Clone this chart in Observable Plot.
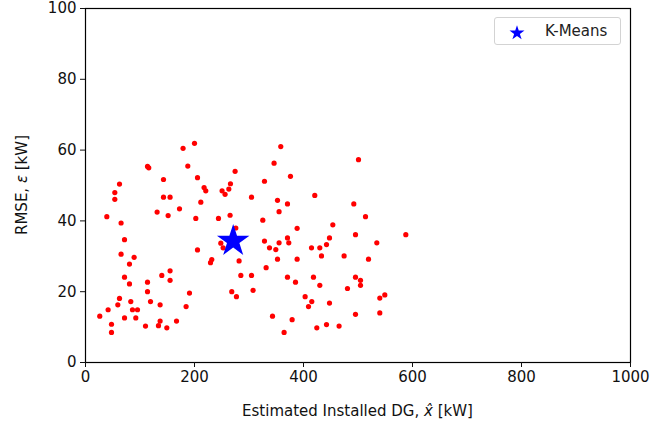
<!DOCTYPE html>
<html>
<head>
<meta charset="utf-8">
<script src="https://cdn.jsdelivr.net/npm/d3@7"></script>
<script src="https://cdn.jsdelivr.net/npm/@observablehq/plot@0.6"></script>
<style>
  html, body { margin: 0; padding: 0; background: #fff; }
  #wrap { position: relative; width: 665px; height: 428px; font-family: "DejaVu Sans", sans-serif; }
  #legend { position: absolute; left: 494px; top: 17px; width: 127px; height: 28px;
    border: 1px solid #d3d3d3; border-radius: 3px; background: rgba(255,255,255,0.8);
    box-sizing: border-box; }
  #legend svg { position: absolute; left: 0; top: 0; }
  #legend span { position: absolute; left: 50px; top: 4px; font-size: 15px; color: #222; }
</style>
</head>
<body>
<div id="wrap"></div>
<script>
// Estimated installed DG (kW) and RMSE (kW) for each sample
const dgX = [200, 179, 113.8, 116.1, 187.7, 274.5, 62.4, 143.1, 205.5, 266, 53.8, 217.6, 220.7, 250.6, 256.1, 263, 53.8, 143.1, 155.2, 211.6, 172.5, 131.4, 151.6, 265.3, 39.1, 202.4, 244, 65.3, 71.6, 205.5,
  248.3, 252.5, 65.3, 89.2, 80.7, 231.7, 229.4, 281.8, 71.6, 140, 155.2, 80.7, 155.2, 113.8, 285, 113.8, 190.8, 268.4, 277, 62.4, 83.1, 59.3, 119.3, 136.9, 41.5, 86.2, 95.4, 184.6, 26.2, 71.6, 92.3, 136.9, 133.9, 167, 47.7, 110.1, 149.2, 47.7,
  358.3, 500.9, 346, 376.1, 328.4, 304.6, 420.7, 352.3, 370.6, 492.3, 355.2, 325.3, 513.8, 388.3, 453.8, 495.4, 587.7, 447.7, 328.4, 370.6, 373, 355.2, 442.2, 534.5, 337.6, 349.2, 414.7, 429.9,
  352.3, 388.3, 433, 474.5, 519.3, 331.4, 304.6, 370.6, 418.3, 495.4, 504.6, 504.6, 385.3, 429.9, 307.5, 480.7, 403, 415.2, 409.2, 447.7, 540, 549.2, 495.4, 540, 343.1, 379.1, 424.4, 442.2, 465.3, 364.4, 275.8];
const rmseY = [61.9, 60.5, 55.4, 55.0, 55.5, 54.0, 50.4, 51.7, 52.2, 50.5, 48.0, 49.4, 48.5, 48.5, 47.5, 49.0, 46.1, 46.7, 46.7, 45.3, 43.4, 42.5, 41.5, 41.6, 41.2, 40.7, 40.7, 39.4, 34.7, 31.8,
  33.7, 32.4, 30.6, 29.7, 27.8, 29.1, 28.2, 28.7, 24.1, 24.6, 25.9, 22.2, 23.2, 22.7, 24.6, 20.0, 19.6, 20.0, 18.6, 18.1, 17.2, 16.3, 17.2, 16.3, 14.9, 14.9, 14.9, 15.8, 13.1, 12.6, 12.6, 11.7, 10.4, 11.7, 10.8, 10.3, 9.8, 8.5,
  61.0, 57.3, 56.3, 52.6, 51.2, 46.7, 47.2, 45.8, 44.8, 44.8, 42.6, 40.2, 41.2, 37.9, 38.9, 36.1, 36.1, 35.2, 34.3, 35.2, 33.8, 33.8, 33.3, 33.8, 32.4, 31.9, 32.4, 32.4,
  29.2, 29.2, 30.1, 30.1, 29.2, 26.8, 24.6, 24.1, 24.1, 24.1, 23.2, 21.8, 22.7, 21.8, 20.4, 20.9, 18.6, 17.2, 15.8, 16.8, 18.2, 19.1, 13.6, 14.0, 13.1, 12.1, 9.8, 10.7, 10.3, 8.5, 38.0];
// K-Means centroid
const kmX = [271];
const kmY = [34.3];
const kmLabel = ["K-Means"];
const xTicks = [0, 200, 400, 600, 800, 1000];
const yTicks = [0, 20, 40, 60, 80, 100];

const points = dgX.map((x, i) => ({x, y: rmseY[i]}));
const centroid = kmX.map((x, i) => ({x, y: kmY[i], name: kmLabel[i]}));

const W = 665, H = 428;
const chart = Plot.plot({
  width: W, height: H,
  marginLeft: 85, marginRight: 35, marginTop: 8, marginBottom: 66,
  style: {fontFamily: "DejaVu Sans", fontSize: "15px", color: "#111", background: "#fff"},
  x: {domain: [0, 1000], ticks: xTicks, label: null},
  y: {domain: [0, 100], ticks: yTicks, label: null},
  marks: [
    Plot.frame({stroke: "#000", strokeWidth: 1.2}),
    Plot.axisX({ticks: xTicks, tickFormat: d3.format("d"), tickSize: 5, tickPadding: 4, label: null, fontSize: 15}),
    Plot.axisY({ticks: yTicks, tickFormat: d3.format("d"), tickSize: 5, tickPadding: 4, label: null, fontSize: 15}),
    Plot.dot(points, {x: "x", y: "y", r: 2.6, fill: "#ff0000", stroke: "none"}),
    Plot.dot(centroid, {x: "x", y: "y", r: 10.2, symbol: "star", fill: "#0000ff", stroke: "none"})
  ]
});

const svg = d3.select(chart);
const xl = svg.append("text")
  .attr("x", (85 + (W - 35)) / 2).attr("y", 416)
  .attr("text-anchor", "middle").attr("font-size", 15).attr("fill", "#111")
  .attr("font-family", "DejaVu Sans");
xl.append("tspan").text("Estimated Installed DG, ");
xl.append("tspan").attr("font-style", "italic").text("x\u0302");
xl.append("tspan").text(" [kW]");

const yl = svg.append("text")
  .attr("transform", `translate(27,${(8 + (H - 66)) / 2}) rotate(-90)`)
  .attr("text-anchor", "middle").attr("font-size", 15).attr("fill", "#111")
  .attr("font-family", "DejaVu Sans");
yl.append("tspan").text("RMSE, ");
yl.append("tspan").attr("font-style", "italic").text("\u03b5");
yl.append("tspan").text(" [kW]");

const wrap = document.getElementById("wrap");
wrap.appendChild(chart);

// legend
const leg = document.createElement("div");
leg.id = "legend";
const ls = d3.create("svg").attr("width", 45).attr("height", 28);
ls.append("path")
  .attr("transform", "translate(22,15)")
  .attr("d", d3.symbol(d3.symbolStar, Math.PI * 4.7 * 4.7)())
  .attr("fill", "#0000ff");
leg.appendChild(ls.node());
const lt = document.createElement("span");
lt.textContent = kmLabel[0];
leg.appendChild(lt);
wrap.appendChild(leg);
</script>
</body>
</html>
